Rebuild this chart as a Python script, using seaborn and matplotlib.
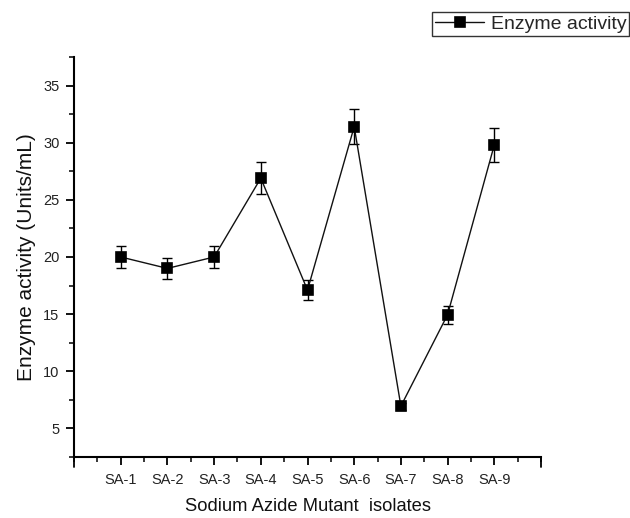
import numpy as np
import pandas as pd
import matplotlib
matplotlib.use("Agg")
import matplotlib.pyplot as plt
from matplotlib.ticker import MultipleLocator
import seaborn as sns

isolates = ["SA-1", "SA-2", "SA-3", "SA-4", "SA-5", "SA-6", "SA-7", "SA-8", "SA-9"]
activity = [20.0, 19.0, 20.0, 26.9, 17.1, 31.4, 6.95, 14.95, 29.8]
activity_err = [1.0, 0.95, 1.0, 1.4, 0.9, 1.55, 0.3, 0.8, 1.5]

df = pd.DataFrame({
    "pos": np.arange(1, len(isolates) + 1),
    "isolate": isolates,
    "activity": activity,
    "err": activity_err,
})

sns.set_theme(style="ticks")
plt.rcParams["font.family"] = ["Liberation Sans", "DejaVu Sans"]

fig = plt.figure(figsize=(6.3, 5.18), dpi=100)
ax = fig.add_axes([0.1175, 0.1178, 0.7412, 0.7722])

ax.errorbar(df["pos"], df["activity"], yerr=df["err"], fmt="none",
            ecolor="black", elinewidth=1.0, capsize=3.5, capthick=1.0, zorder=2)
sns.lineplot(data=df, x="pos", y="activity", ax=ax, color="#111111",
             linewidth=1.0, marker="s", markersize=8, markeredgecolor="white",
             markeredgewidth=1.2, markerfacecolor="black",
             label="Enzyme activity", legend=False, zorder=3)

ax.set_xlim(0, 10)
ax.set_ylim(2.5, 37.5)
ax.set_xticks(df["pos"])
ax.set_xticklabels(isolates)
ax.xaxis.set_minor_locator(MultipleLocator(0.5))
ax.yaxis.set_minor_locator(MultipleLocator(2.5))
ax.set_yticks([5, 10, 15, 20, 25, 30, 35])

# longer ticks at both ends of the x axis
for xe in (0, 10):
    ax.plot([xe, xe], [0, -0.026], transform=ax.get_xaxis_transform(),
            color="black", lw=1.3, clip_on=False)

ax.tick_params(axis="both", which="major", direction="out", length=5.5,
               width=1.3, color="black", labelsize=10.5, labelcolor="#222222", pad=5)
ax.tick_params(axis="x", which="major", pad=6)
ax.tick_params(axis="both", which="minor", direction="out", length=3.5,
               width=1.1, color="black")

for side in ("top", "right"):
    ax.spines[side].set_visible(False)
for side in ("left", "bottom"):
    ax.spines[side].set_linewidth(1.5)
    ax.spines[side].set_color("black")

ax.set_xlabel("Sodium Azide Mutant  isolates", fontsize=13.2, color="#111111", labelpad=8)
ax.set_ylabel("Enzyme activity (Units/mL)", fontsize=15, color="#111111", labelpad=5)

handles, labels = ax.get_legend_handles_labels()
for h in handles:
    h.set_markeredgecolor("black")
    h.set_markersize(7)
leg = fig.legend(handles, labels, loc="upper right",
                 bbox_to_anchor=(0.999, 0.976), fontsize=14, frameon=True,
                 fancybox=False, edgecolor="black", handlelength=2.5,
                 handletextpad=0.35, borderpad=0.15, borderaxespad=0)
leg.get_frame().set_linewidth(1.0)

fig.savefig("out.png", dpi=100, facecolor="white")
